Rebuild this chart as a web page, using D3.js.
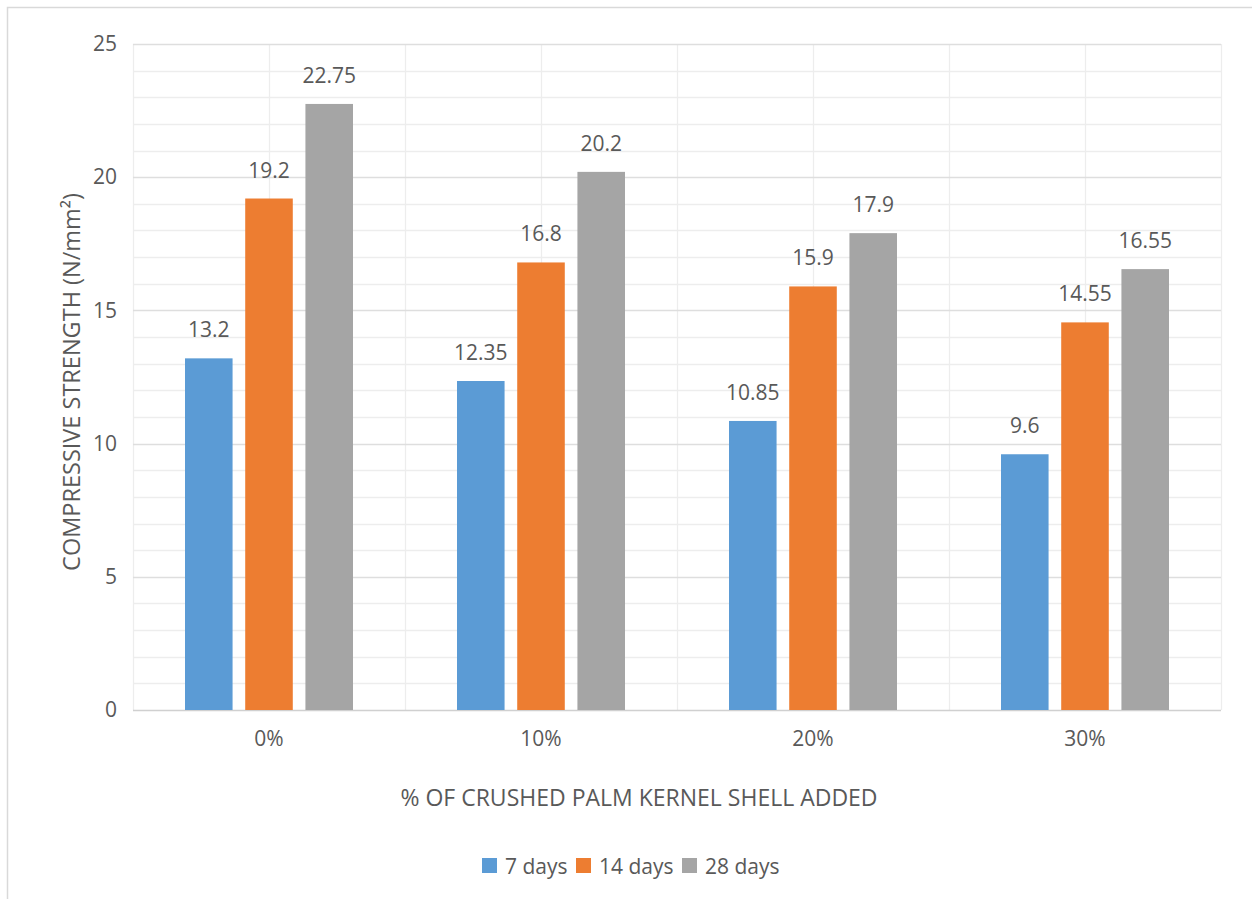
<!DOCTYPE html>
<html>
<head>
<meta charset="utf-8">
<script src="https://cdn.jsdelivr.net/npm/d3@7/dist/d3.min.js"></script>
<style>
  html, body { margin: 0; padding: 0; background: #fff; }
  svg { display: block; font-family: "Open Sans", sans-serif; }
</style>
</head>
<body>
<svg id="chart" width="1252" height="899"></svg>
<script>
// Compressive strength by palm kernel shell content and curing age
const categories = ["0%", "10%", "20%", "30%"];
const seriesNames = ["7 days", "14 days", "28 days"];
const days7 = [13.2, 12.35, 10.85, 9.6];
const days14 = [19.2, 16.8, 15.9, 14.55];
const days28 = [22.75, 20.2, 17.9, 16.55];
const seriesValues = [days7, days14, days28];
const seriesColors = ["#5B9BD5", "#ED7D31", "#A5A5A5"];
const yTicks = [0, 5, 10, 15, 20, 25];

const svg = d3.select("#chart");
const textColor = "#595959";

// Chart frame
svg.append("rect")
  .attr("x", 7.5).attr("y", 7.5)
  .attr("width", 1260).attr("height", 920)
  .attr("fill", "#fff").attr("stroke", "#d9d9d9").attr("stroke-width", 1.5);

const plot = { left: 133, right: 1221, top: 44, bottom: 710 };

const y = d3.scaleLinear().domain([0, 25]).range([plot.bottom, plot.top]);
const x0 = d3.scaleBand().domain(categories).range([plot.left, plot.right]).padding(0);
const groupWidth = 168;
const x1 = d3.scaleBand().domain(seriesNames).range([0, groupWidth]).paddingInner(0.21).paddingOuter(0);

// Minor horizontal gridlines (every unit)
const g = svg.append("g");
g.selectAll("line.minor")
  .data(d3.range(1, 25).filter(v => v % 5 !== 0))
  .join("line")
  .attr("x1", plot.left).attr("x2", plot.right)
  .attr("y1", d => Math.round(y(d)) + 0.5).attr("y2", d => Math.round(y(d)) + 0.5)
  .attr("stroke", "#ededed").attr("stroke-width", 1.3);

// Vertical gridlines at category edges and centres
const vLines = [];
categories.forEach(c => {
  vLines.push(x0(c));
  vLines.push(x0(c) + x0.bandwidth() / 2);
});
vLines.push(plot.right);
g.selectAll("line.v")
  .data(vLines)
  .join("line")
  .attr("x1", d => Math.round(d) + 0.5).attr("x2", d => Math.round(d) + 0.5)
  .attr("y1", plot.top).attr("y2", plot.bottom)
  .attr("stroke", "#ededed").attr("stroke-width", 1.3);

// Major horizontal gridlines
g.selectAll("line.major")
  .data(yTicks)
  .join("line")
  .attr("x1", plot.left).attr("x2", plot.right)
  .attr("y1", d => Math.round(y(d)) + 0.5).attr("y2", d => Math.round(y(d)) + 0.5)
  .attr("stroke", d => d === 0 ? "#d0d0d0" : "#dedede").attr("stroke-width", 1.5);

// Y axis tick labels
const yAxis = d3.axisLeft(y).tickValues(yTicks).tickSize(0).tickPadding(16);
const yG = svg.append("g").attr("transform", `translate(${plot.left},0)`).call(yAxis);
yG.select(".domain").remove();
yG.selectAll("text")
  .attr("fill", textColor)
  .style("font-size", "21px")
  .style("font-family", "'Open Sans', sans-serif");

// X axis category labels
const xAxis = d3.axisBottom(x0).tickSize(0).tickPadding(21);
const xG = svg.append("g").attr("transform", `translate(0,${plot.bottom})`).call(xAxis);
xG.select(".domain").remove();
xG.selectAll("text")
  .attr("fill", textColor)
  .style("font-size", "21px")
  .style("font-family", "'Open Sans', sans-serif");

// Bars
const groups = svg.append("g").selectAll("g.cat")
  .data(categories)
  .join("g")
  .attr("transform", c => `translate(${x0(c) + (x0.bandwidth() - groupWidth) / 2},0)`);

groups.selectAll("rect")
  .data((c, i) => seriesNames.map((s, k) => ({ s, v: seriesValues[k][i], color: seriesColors[k] })))
  .join("rect")
  .attr("x", d => x1(d.s))
  .attr("width", x1.bandwidth())
  .attr("y", d => y(d.v))
  .attr("height", d => y(0) - y(d.v))
  .attr("fill", d => d.color);

// Value labels
groups.selectAll("text")
  .data((c, i) => seriesNames.map((s, k) => ({ s, v: seriesValues[k][i] })))
  .join("text")
  .attr("x", d => x1(d.s) + x1.bandwidth() / 2)
  .attr("y", d => y(d.v) - 21)
  .attr("text-anchor", "middle")
  .attr("fill", textColor)
  .style("font-size", "21px")
  .text(d => d.v);

// Axis titles
svg.append("text")
  .attr("x", 639)
  .attr("y", 806)
  .attr("text-anchor", "middle")
  .attr("fill", textColor)
  .style("font-size", "23px")
  .text("% OF CRUSHED PALM KERNEL SHELL ADDED");

svg.append("text")
  .attr("transform", "translate(80,382) rotate(-90)")
  .attr("text-anchor", "middle")
  .attr("fill", textColor)
  .style("font-size", "23.5px")
  .text("COMPRESSIVE STRENGTH (N/mm²)");

// Legend
const legend = svg.append("g").attr("transform", "translate(482,858)");
const legendX = [0, 94, 200];
seriesNames.forEach((s, k) => {
  const item = legend.append("g").attr("transform", `translate(${legendX[k]},0)`);
  item.append("rect").attr("width", 15).attr("height", 15).attr("fill", seriesColors[k]);
  item.append("text")
    .attr("x", 23).attr("y", 15.5)
    .attr("fill", textColor)
    .style("font-size", "21px")
    .text(s);
});
</script>
</body>
</html>
